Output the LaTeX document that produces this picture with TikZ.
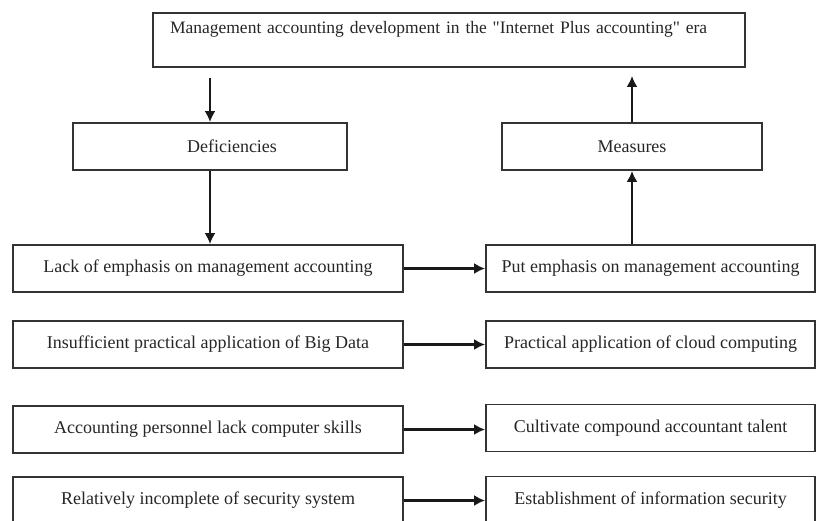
\documentclass[tikz,border=0pt]{standalone}
\usepackage{fontspec}
\setmainfont{Liberation Serif}[Ligatures=TeXOff]
\usetikzlibrary{arrows.meta}

\begin{document}
\begin{tikzpicture}[x=1pt,y=-1pt,
  box/.style={draw=black!80,line width=1.8pt,inner sep=0pt,text=black!85,
    font=\fontsize{18}{20}\selectfont,minimum height=47pt},
  lbox/.style={box,minimum width=390pt},
  rbox/.style={box,minimum width=329pt},
  arr/.style={draw=black!90,line width=2.6pt,-{Latex[length=11pt,width=11pt]}}]

\useasboundingbox (0,0) rectangle (817,520);
\clip (0,0) rectangle (817,520);

\node[box,text width=558pt,inner xsep=17pt,inner ysep=5pt,align=left,
  text height=15pt,text depth=29pt,font=\fontsize{17.5}{20}\selectfont] (era) at (449,40)
  {Management accounting development in the "Internet Plus accounting" era};

\node[box,minimum width=274pt] (def) at (210,146.5) {\hspace*{44pt}Deficiencies};
\node[box,minimum width=260pt] (meas) at (632,146.5) {Measures};

\node[lbox] (lack) at (208,268.5) {Lack of emphasis on management accounting};
\node[rbox] (put) at (650.5,268.5) {Put emphasis on management accounting};
\node[lbox] (data) at (208,344.5) {Insufficient practical application of Big Data};
\node[rbox] (cloud) at (650.5,344.5) {Practical application of cloud computing};
\node[lbox] (skill) at (208,429.5) {Accounting personnel lack computer skills};
\node[rbox] (talent) at (650.5,428) {Cultivate compound accountant talent};
\node[lbox] (sys) at (208,500.5) {Relatively incomplete of security system};
\node[rbox] (sec) at (650.5,500) {Establishment of information security};

\draw[arr,shorten <=10pt] (era.south -| def) -- (def.north);
\draw[arr] (def.south) -- (def.south |- lack.north);
\draw[arr] (put.north -| meas) -- (meas.south);
\draw[arr,shorten >=8pt] (meas.north) -- (meas.north |- era.south);

\foreach \a/\b in {lack/put,data/cloud,skill/talent,sys/sec}
  \draw[arr] (\a.east) -- (\a.east -| \b.west);

\end{tikzpicture}
\end{document}
